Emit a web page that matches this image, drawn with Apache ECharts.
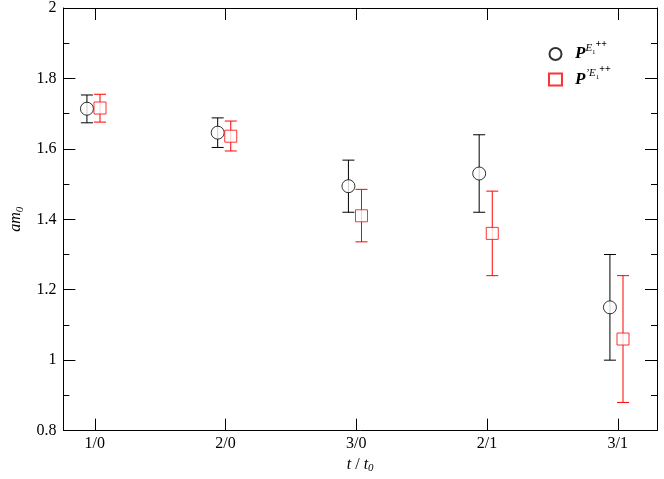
<!DOCTYPE html>
<html>
<head>
<meta charset="utf-8">
<script src="https://cdn.jsdelivr.net/npm/echarts@6/dist/echarts.min.js"></script>
<style>
  html, body { margin: 0; padding: 0; background: #fff; }
  #chart { width: 664px; height: 479px; }
</style>
</head>
<body>
<div id="chart"></div>
<script>
// t / t0 categories (placed at x = 1..5)
var categories = ['1/0', '2/0', '3/0', '2/1', '3/1'];
var catPos = [1, 2, 3, 4, 5];

// P^{E1}++  (black circles)
var xBlack = [0.94, 1.94, 2.94, 3.94, 4.94];
var yBlack = [1.714, 1.646, 1.494, 1.530, 1.150];
var loBlack = [1.674, 1.604, 1.420, 1.420, 1.000];
var hiBlack = [1.753, 1.688, 1.568, 1.640, 1.300];

// P'^{E1}++  (red squares)
var xRed = [1.04, 2.04, 3.04, 4.04, 5.04];
var yRed = [1.716, 1.636, 1.410, 1.360, 1.060];
var loRed = [1.676, 1.594, 1.336, 1.240, 0.880];
var hiRed = [1.755, 1.679, 1.485, 1.480, 1.240];

var chart = echarts.init(document.getElementById('chart'));
var serif = '"Liberation Serif", "DejaVu Serif", serif';

function pts(xs, ys) {
  return xs.map(function (x, i) { return [x, ys[i]]; });
}
function bars(xs, lo, hi) {
  return xs.map(function (x, i) { return [x, lo[i], hi[i]]; });
}
// error bar with caps
function errBar(color) {
  return function (params, api) {
    var top = api.coord([api.value(0), api.value(2)]);
    var bot = api.coord([api.value(0), api.value(1)]);
    var w = 6;
    var st = { stroke: color, lineWidth: 1 };
    return {
      type: 'group',
      children: [
        { type: 'line', shape: { x1: top[0], y1: top[1], x2: bot[0], y2: bot[1] }, style: st },
        { type: 'line', shape: { x1: top[0] - w, y1: top[1], x2: top[0] + w, y2: top[1] }, style: st },
        { type: 'line', shape: { x1: bot[0] - w, y1: bot[1], x2: bot[0] + w, y2: bot[1] }, style: st }
      ]
    };
  };
}

var legendRich = {
  p: { fontFamily: serif, fontSize: 17, fontWeight: 'bold', fontStyle: 'italic', color: '#000' },
  sup: { fontFamily: serif, fontSize: 11, fontStyle: 'italic', color: '#000', padding: [0, 0, 12, 0] },
  sub: { fontFamily: serif, fontSize: 7, color: '#000', padding: [0, 0, 4, 0] },
  pp: { fontFamily: serif, fontSize: 10, fontWeight: 'bold', color: '#000', padding: [0, 0, 20, 0] }
};

var option = {
  animation: false,
  backgroundColor: '#fff',
  grid: { left: 55, right: 7, top: 4, bottom: 32 },
  legend: {
    orient: 'vertical',
    left: 543,
    top: 34,
    itemGap: 2,
    itemWidth: 13,
    itemHeight: 12,
    data: ['black', 'red'],
    formatter: function (name) {
      if (name === 'black') return '{p|P}{sup|E}{sub|1}{pp|++}';
      return '{p|P}{sup|\u2019E}{sub|1}{pp|++}';
    },
    textStyle: { rich: legendRich, padding: [0, 0, 0, 8] }
  },
  xAxis: [{
    type: 'value',
    min: 0.76,
    max: 5.30,
    name: '{i|t} / {i|t}{s|0}',
    nameLocation: 'middle',
    nameGap: 15,
    nameTextStyle: {
      fontFamily: serif, fontSize: 16, color: '#000',
      rich: {
        i: { fontFamily: serif, fontSize: 16, fontStyle: 'italic', color: '#000' },
        s: { fontFamily: serif, fontSize: 11, fontStyle: 'italic', color: '#000', padding: [8, 0, 0, 0] }
      }
    },
    axisLine: { show: true, lineStyle: { color: '#000', width: 1 } },
    axisTick: { show: true, inside: true, length: 12, customValues: catPos, lineStyle: { color: '#000' } },
    axisLabel: {
      customValues: catPos,
      margin: 5,
      fontFamily: serif, fontSize: 16, color: '#000',
      formatter: function (v) { return categories[Math.round(v) - 1]; }
    },
    splitLine: { show: false }
  }, {
    type: 'value',
    position: 'top',
    min: 0.76,
    max: 5.30,
    axisLine: { show: true, onZero: false, lineStyle: { color: '#000', width: 1 } },
    axisTick: { show: true, inside: true, length: 12, customValues: catPos, lineStyle: { color: '#000' } },
    axisLabel: { show: false },
    splitLine: { show: false }
  }],
  yAxis: [{
    type: 'value',
    min: 0.8,
    max: 2,
    interval: 0.2,
    name: '{i|am}{s|0}',
    nameLocation: 'middle',
    nameGap: 34,
    nameRotate: 90,
    nameTextStyle: {
      rich: {
        i: { fontFamily: serif, fontSize: 16, fontStyle: 'italic', color: '#000' },
        s: { fontFamily: serif, fontSize: 11, fontStyle: 'italic', color: '#000', padding: [8, 0, 0, 0] }
      }
    },
    axisLine: { show: true, lineStyle: { color: '#000', width: 1 } },
    axisTick: { show: true, inside: true, length: 12, lineStyle: { color: '#000' } },
    minorTick: { show: true, splitNumber: 2, length: 6, lineStyle: { color: '#000' } },
    axisLabel: { margin: 7, fontFamily: serif, fontSize: 16, color: '#000' },
    splitLine: { show: false }
  }, {
    type: 'value',
    position: 'right',
    min: 0.8,
    max: 2,
    interval: 0.2,
    axisLine: { show: true, onZero: false, lineStyle: { color: '#000', width: 1 } },
    axisTick: { show: true, inside: true, length: 12, lineStyle: { color: '#000' } },
    minorTick: { show: true, splitNumber: 2, length: 6, lineStyle: { color: '#000' } },
    axisLabel: { show: false },
    splitLine: { show: false }
  }],
  series: [{
    type: 'custom',
    renderItem: errBar('#000'),
    data: bars(xBlack, loBlack, hiBlack),
    z: 2
  }, {
    type: 'custom',
    renderItem: errBar('#ff0000'),
    data: bars(xRed, loRed, hiRed),
    z: 2
  }, {
    name: 'black',
    type: 'scatter',
    symbol: 'circle',
    symbolSize: 13,
    itemStyle: { color: '#fff', borderColor: '#000', borderWidth: 1 },
    data: pts(xBlack, yBlack),
    z: 3
  }, {
    name: 'red',
    type: 'scatter',
    symbol: 'rect',
    symbolSize: 12,
    itemStyle: { color: '#fff', borderColor: '#ff0000', borderWidth: 1 },
    data: pts(xRed, yRed),
    z: 3
  }]
};

chart.setOption(option);
</script>
</body>
</html>
